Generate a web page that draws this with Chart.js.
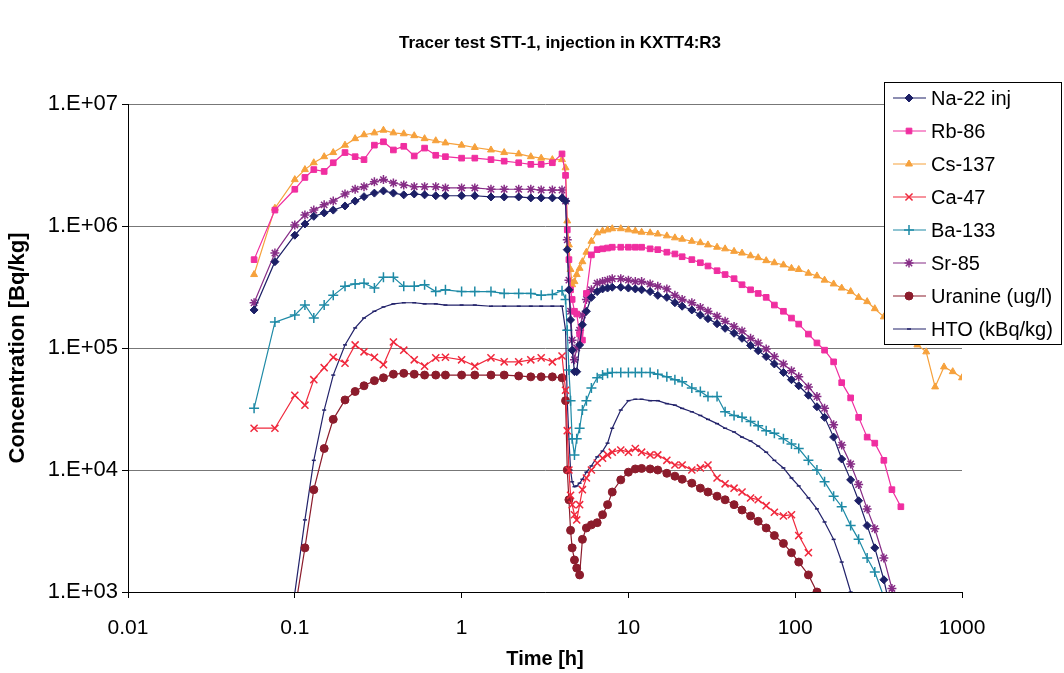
<!DOCTYPE html>
<html>
<head>
<meta charset="utf-8">
<title>Tracer test STT-1, injection in KXTT4:R3</title>
<script src="https://cdn.jsdelivr.net/npm/chart.js@4.4.1/dist/chart.umd.min.js"></script>
<style>
  html, body { margin: 0; padding: 0; background: #fff; }
  #wrap { width: 1064px; height: 673px; }
</style>
</head>
<body>
<div id="wrap"><canvas id="chart" width="1064" height="673"></canvas></div>
<script>
// sampling times [h], shared by all tracers (null = no sample)
const hours = [
  0.057, 0.076, 0.1, 0.115, 0.13, 0.15, 0.17, 0.2, 0.23, 0.26, 0.3, 0.34, 0.39, 0.45, 0.52, 0.6, 0.7, 0.8, 1.0, 1.2, 1.5, 1.8, 2.2, 2.6, 3.0, 3.5, 4.0,
  4.2, 4.3, 4.4, 4.5, 4.6, 4.75, 4.9, 5.1, 5.3, 5.6,
  6, 6.5, 7, 7.5, 8, 9, 10, 11, 12, 13.5, 15, 17, 19, 21, 24, 27, 30, 34, 38, 43, 48, 54, 60, 67, 75, 85, 95, 105,
  120, 135, 150, 170, 190, 215, 240, 270, 300, 340, 380, 430, 480, 540, 610, 690, 780, 880, 1000
];

const na22 = [
  2.05e5, 5.1e5, 8.4e5, 1.04e6, 1.2e6, 1.28e6, 1.35e6, 1.46e6, 1.6e6, 1.74e6, 1.86e6, 1.94e6, 1.86e6, 1.8e6, 1.83e6, 1.8e6, 1.77e6, 1.77e6, 1.77e6, 1.77e6, 1.73e6, 1.73e6, 1.73e6, 1.7e6, 1.7e6, 1.7e6, 1.7e6,
  1.6e6, 6.4e5, 3.0e5, 1.7e5, 9.6e4, 6.4e4, 6.4e4, 1.06e5, 1.55e5, 2.0e5,
  2.6e5, 2.9e5, 3.05e5, 3.1e5, 3.15e5, 3.15e5, 3.1e5, 3.05e5, 3.0e5, 2.9e5, 2.7e5, 2.6e5, 2.35e5, 2.2e5, 2.05e5, 1.86e5, 1.74e5, 1.58e5, 1.45e5, 1.32e5,
  1.2e5, 1.05e5, 9.5e4, 8.5e4, 7.4e4, 6.3e4, 5.5e4, 4.9e4, 4.1e4, 3.3e4, 2.7e4, 1.86e4, 1.23e4, 8.3e3, 5.6e3, 3.5e3, 2.3e3, 1.26e3, 6.3e2,
  null, null, null, null, null, null, null, null
];

const rb86 = [
  5.3e5, 1.35e6, 2.0e6, 2.5e6, 2.9e6, 2.8e6, 3.3e6, 4.0e6, 3.7e6, 3.5e6, 4.6e6, 4.9e6, 4.2e6, 4.5e6, 3.75e6, 4.35e6, 3.8e6, 3.7e6, 3.6e6, 3.6e6, 3.5e6, 3.4e6, 3.3e6, 3.2e6, 3.2e6, 3.3e6, 3.9e6,
  2.6e6, 9.3e5, 5.3e5, 3.0e5, 2.5e5, 2.0e5, 1.9e5, 1.3e5, 1.16e5, 2.8e5,
  5.8e5, 6.4e5, 6.5e5, 6.6e5, 6.7e5, 6.7e5, 6.7e5, 6.7e5, 6.7e5, 6.5e5, 6.4e5, 6.1e5, 5.9e5, 5.6e5, 5.3e5, 5.0e5, 4.7e5, 4.3e5, 4.0e5, 3.7e5,
  3.3e5, 3.0e5, 2.8e5, 2.6e5, 2.25e5, 2.0e5, 1.76e5, 1.57e5, 1.3e5, 1.1e5, 9.6e4, 7.7e4, 5.2e4, 3.9e4, 2.7e4, 1.86e4, 1.66e4, 1.2e4, 6.9e3, 5.0e3,
  null, null, null, null, null, null, null
];

const cs137 = [
  4.0e5, 1.4e6, 2.4e6, 2.9e6, 3.3e6, 3.7e6, 4.0e6, 4.6e6, 5.2e6, 5.6e6, 5.8e6, 6.1e6, 5.8e6, 5.7e6, 5.5e6, 5.2e6, 5.0e6, 4.8e6, 4.6e6, 4.4e6, 4.2e6, 4.0e6, 3.9e6, 3.7e6, 3.6e6, 3.5e6, 3.5e6,
  3.0e6, 1.1e6, 7.0e5, 4.4e5, 3.3e5, 3.5e5, 4.0e5, 4.5e5, 5.1e5, 6.1e5,
  7.5e5, 8.8e5, 9.1e5, 9.3e5, 9.5e5, 9.5e5, 9.3e5, 9.1e5, 8.9e5, 8.8e5, 8.6e5, 8.3e5, 8.0e5, 7.8e5, 7.5e5, 7.3e5, 7.0e5, 6.7e5, 6.5e5, 6.2e5,
  6.0e5, 5.7e5, 5.5e5, 5.2e5, 5.0e5, 4.8e5, 4.5e5, 4.4e5, 4.1e5, 3.9e5, 3.6e5, 3.35e5, 3.1e5, 2.9e5, 2.6e5, 2.4e5, 2.1e5, 1.8e5, 1.6e5, 1.4e5,
  1.23e5, 1.06e5, 9.3e4, 4.8e4, 7.0e4, 6.4e4, 5.7e4
];

const ca47 = [
  2.2e4, 2.2e4, 4.1e4, 3.4e4, 5.5e4, 6.9e4, 8.4e4, 7.5e4, 1.06e5, 9.3e4, 8.4e4, 7.3e4, 1.12e5, 9.6e4, 8.0e4, 7.1e4, 8.3e4, 8.4e4, 8.0e4, 7.1e4, 8.3e4, 7.7e4, 7.7e4, 8.0e4, 8.3e4, 7.7e4, 8.6e4,
  4.5e4, 2.1e4, 1.0e4, 6.2e3, 5.2e3, 4.3e3, 3.9e3, 5.2e3, 6.9e3, 8.6e3,
  1.0e4, 1.14e4, 1.25e4, 1.33e4, 1.4e4, 1.46e4, 1.4e4, 1.5e4, 1.4e4, 1.33e4, 1.33e4, 1.2e4, 1.1e4, 1.1e4, 1.0e4, 1.04e4, 1.1e4, 8.6e3, 7.7e3, 7.1e3,
  6.6e3, 5.9e3, 5.7e3, 5.1e3, 4.5e3, 4.2e3, 4.3e3, 2.9e3, 2.1e3,
  null, null, null, null, null, null, null, null, null, null, null, null, null, null, null, null, null, null
];

const ba133 = [
  3.2e4, 1.63e5, 1.86e5, 2.25e5, 1.76e5, 2.25e5, 2.7e5, 3.2e5, 3.35e5, 3.4e5, 3.1e5, 3.8e5, 3.8e5, 3.2e5, 3.2e5, 3.3e5, 2.9e5, 3.0e5, 2.9e5, 2.9e5, 2.9e5, 2.8e5, 2.8e5, 2.8e5, 2.7e5, 2.75e5, 2.95e5,
  2.5e5, 1.4e5, 6.6e4, 3.7e4, 1.8e4, 1.33e4, 1.8e4, 2.2e4, 3.1e4, 3.7e4,
  4.7e4, 5.7e4, 6.0e4, 6.2e4, 6.3e4, 6.3e4, 6.3e4, 6.3e4, 6.3e4, 6.3e4, 6.1e4, 5.8e4, 5.5e4, 5.3e4, 4.7e4, 4.4e4, 4.0e4, 4.0e4, 3.0e4, 2.8e4,
  2.7e4, 2.5e4, 2.3e4, 2.1e4, 2.0e4, 1.8e4, 1.63e4, 1.5e4, 1.2e4, 1.0e4, 8.0e3, 6.1e3, 5.0e3, 3.5e3, 2.7e3, 1.9e3, 1.46e3, 9.1e2,
  null, null, null, null, null, null, null, null, null
];

const sr85 = [
  2.35e5, 6.0e5, 1.02e6, 1.23e6, 1.35e6, 1.49e6, 1.6e6, 1.83e6, 2.0e6, 2.1e6, 2.3e6, 2.4e6, 2.25e6, 2.17e6, 2.1e6, 2.1e6, 2.1e6, 2.05e6, 2.05e6, 2.05e6, 2.0e6, 2.0e6, 2.0e6, 2.0e6, 1.97e6, 1.97e6, 1.97e6,
  1.6e6, 7.7e5, 3.6e5, 2.0e5, 1.16e5, 8.0e4, 1.0e5, 1.4e5, 1.86e5, 2.5e5,
  3.0e5, 3.4e5, 3.5e5, 3.6e5, 3.7e5, 3.7e5, 3.6e5, 3.5e5, 3.5e5, 3.35e5, 3.2e5, 3.05e5, 2.7e5, 2.5e5, 2.35e5, 2.15e5, 2.0e5, 1.82e5, 1.66e5, 1.5e5,
  1.38e5, 1.2e5, 1.1e5, 9.8e4, 8.5e4, 7.4e4, 6.5e4, 5.8e4, 4.8e4, 4.0e4, 3.2e4, 2.35e4, 1.6e4, 1.12e4, 7.6e3, 4.8e3, 3.3e3, 1.9e3, 1.07e3, 5.6e2,
  null, null, null, null, null, null, null
];

const uranine = [
  null, null, 7.0e2, 2.3e3, 6.9e3, 1.5e4, 2.6e4, 3.75e4, 4.4e4, 4.9e4, 5.4e4, 5.7e4, 6.1e4, 6.2e4, 6.1e4, 6.0e4, 6.0e4, 6.0e4, 6.0e4, 6.0e4, 6.0e4, 6.0e4, 5.9e4, 5.8e4, 5.8e4, 5.8e4, 5.7e4,
  3.7e4, 1.0e4, 5.7e3, 3.2e3, 2.3e3, 1.83e3, 1.57e3, 1.38e3, 2.7e3, 3.35e3,
  3.55e3, 3.7e3, 4.3e3, 5.2e3, 6.6e3, 8.3e3, 9.6e3, 1.02e4, 1.03e4, 1.02e4, 1.0e4, 9.4e3, 8.9e3, 8.4e3, 7.8e3, 7.1e3, 6.6e3, 6.1e3, 5.7e3, 5.2e3,
  4.7e3, 4.2e3, 3.8e3, 3.35e3, 2.9e3, 2.5e3, 2.1e3, 1.76e3, 1.38e3, 1.0e3, 7.0e2,
  null, null, null, null, null, null, null, null, null, null, null, null, null, null, null, null
];

const hto = [
  null, null, 9.8e2, 3.9e3, 1.2e4, 3.1e4, 6.0e4, 1.06e5, 1.46e5, 1.76e5, 2.0e5, 2.17e5, 2.3e5, 2.35e5, 2.35e5, 2.3e5, 2.3e5, 2.25e5, 2.25e5, 2.25e5, 2.2e5, 2.2e5, 2.2e5, 2.2e5, 2.2e5, 2.2e5, 2.2e5,
  1.4e5, 3.7e4, 1.8e4, 1.0e4, 8.0e3, 7.3e3, 7.4e3, 7.8e3, 8.4e3, 9.6e3,
  1.08e4, 1.28e4, 1.43e4, 1.66e4, 2.2e4, 3.1e4, 3.7e4, 3.8e4, 3.8e4, 3.7e4, 3.7e4, 3.5e4, 3.4e4, 3.2e4, 3.0e4, 2.8e4, 2.6e4, 2.4e4, 2.2e4, 2.05e4,
  1.86e4, 1.73e4, 1.57e4, 1.4e4, 1.2e4, 1.04e4, 8.6e3, 7.4e3, 5.9e3, 4.8e3, 3.75e3, 2.7e3, 1.76e3, 1.0e3, 6.0e2,
  null, null, null, null, null, null, null, null, null, null, null, null
];

const chartTitle = 'Tracer test STT-1, injection in KXTT4:R3';
const seriesNames = ['Na-22 inj', 'Rb-86', 'Cs-137', 'Ca-47', 'Ba-133', 'Sr-85', 'Uranine (ug/l)', 'HTO (kBq/kg)'];
const xTicks = [0.01, 0.1, 1, 10, 100, 1000];
const xTickLabels = ['0.01', '0.1', '1', '10', '100', '1000'];
const yTicks = [1e3, 1e4, 1e5, 1e6, 1e7];
const yTickLabels = ['1.E+03', '1.E+04', '1.E+05', '1.E+06', '1.E+07'];

const FONT = '"Liberation Sans", Arial, Helvetica, sans-serif';

function points(values) {
    return hours.map((t, i) => ({ x: t, y: values[i] })).filter(p => p.y !== null);
}

function series(i, values, color, style, radius, filled) {
    return {
        label: seriesNames[i],
        data: points(values),
        borderColor: color,
        backgroundColor: color,
        borderWidth: 1.2,
        pointStyle: style,
        pointRadius: radius,
        pointBorderColor: color,
        pointBackgroundColor: filled ? color : 'transparent',
        pointBorderWidth: filled ? 1 : 1.5,
        tension: 0,
    };
}

// page title (centred on the whole page) and the boxed legend over the plot
const decorations = {
    id: 'decorations',
    afterDraw(chart) {
        const ctx = chart.ctx;
        ctx.save();
        ctx.fillStyle = '#000';
        ctx.font = 'bold 17px ' + FONT;
        ctx.textAlign = 'center';
        ctx.textBaseline = 'middle';
        ctx.fillText(chartTitle, 560, 43);

        ctx.fillStyle = '#fff';
        ctx.strokeStyle = '#000';
        ctx.lineWidth = 1;
        ctx.fillRect(884.5, 82.5, 177, 262);
        ctx.strokeRect(884.5, 82.5, 177, 262);
        ctx.font = '20px ' + FONT;
        ctx.textAlign = 'left';
        chart.data.datasets.forEach((ds, i) => {
            const y = 98 + i * 33;
            ctx.strokeStyle = ds.borderColor;
            ctx.lineWidth = ds.borderWidth;
            ctx.beginPath();
            ctx.moveTo(893, y);
            ctx.lineTo(926, y);
            ctx.stroke();
            ctx.fillStyle = ds.pointBackgroundColor;
            ctx.lineWidth = ds.pointBorderWidth;
            Chart.helpers.drawPoint(ctx, {
                pointStyle: ds.pointStyle,
                radius: ds.pointRadius,
                rotation: 0,
                borderWidth: ds.pointBorderWidth,
            }, 909, y);
            ctx.fillStyle = '#000';
            ctx.fillText(ds.label, 931, y + 1);
        });
        ctx.restore();
    }
};

new Chart(document.getElementById('chart'), {
    type: 'line',
    data: {
        datasets: [
            series(0, na22, '#1c1f66', 'rectRot', 4, true),
            series(1, rb86, '#f02ea0', 'rect', 4, true),
            series(2, cs137, '#f6a13c', 'triangle', 4, true),
            series(3, ca47, '#f0283c', 'crossRot', 5, false),
            series(4, ba133, '#1e8aa6', 'cross', 5, false),
            series(5, sr85, '#862c86', 'star', 4.5, false),
            series(6, uranine, '#8c1c2c', 'circle', 4, true),
            series(7, hto, '#22226a', 'line', 2, false),
        ],
    },
    options: {
        responsive: false,
        animation: false,
        layout: { padding: { left: 0, right: 102, top: 104, bottom: 0 } },
        plugins: {
            legend: { display: false },
            tooltip: { enabled: false },
            title: { display: false },
        },
        scales: {
            x: {
                type: 'logarithmic',
                min: 0.01,
                max: 1000,
                afterBuildTicks: (scale) => { scale.ticks = xTicks.map(v => ({ value: v })); },
                afterFit: (scale) => { scale.height = 81; },
                ticks: {
                    autoSkip: false,
                    maxRotation: 0,
                    padding: 18,
                    color: '#000',
                    font: { family: FONT, size: 21 },
                    callback: (value) => xTickLabels[xTicks.indexOf(value)],
                },
                grid: { drawOnChartArea: false, tickLength: 6, tickColor: '#000' },
                border: { color: '#000', width: 1 },
                title: {
                    display: true,
                    text: 'Time [h]',
                    color: '#000',
                    font: { family: FONT, size: 20, weight: 'bold' },
                    padding: { top: 0, bottom: 2 },
                },
            },
            y: {
                type: 'logarithmic',
                min: 1e3,
                max: 1e7,
                afterBuildTicks: (scale) => { scale.ticks = yTicks.map(v => ({ value: v })); },
                afterFit: (scale) => { scale.width = 128; },
                ticks: {
                    padding: 4,
                    color: '#000',
                    font: { family: FONT, size: 22 },
                    callback: (value) => yTickLabels[yTicks.indexOf(value)],
                },
                grid: { color: '#777', lineWidth: 1, tickLength: 6, tickColor: '#000' },
                border: { color: '#000', width: 1 },
                title: {
                    display: true,
                    text: 'Concentration [Bq/kg]',
                    color: '#000',
                    font: { family: FONT, size: 22, weight: 'bold' },
                    padding: { top: 5 },
                },
            },
        },
    },
    plugins: [decorations],
});
</script>
</body>
</html>
